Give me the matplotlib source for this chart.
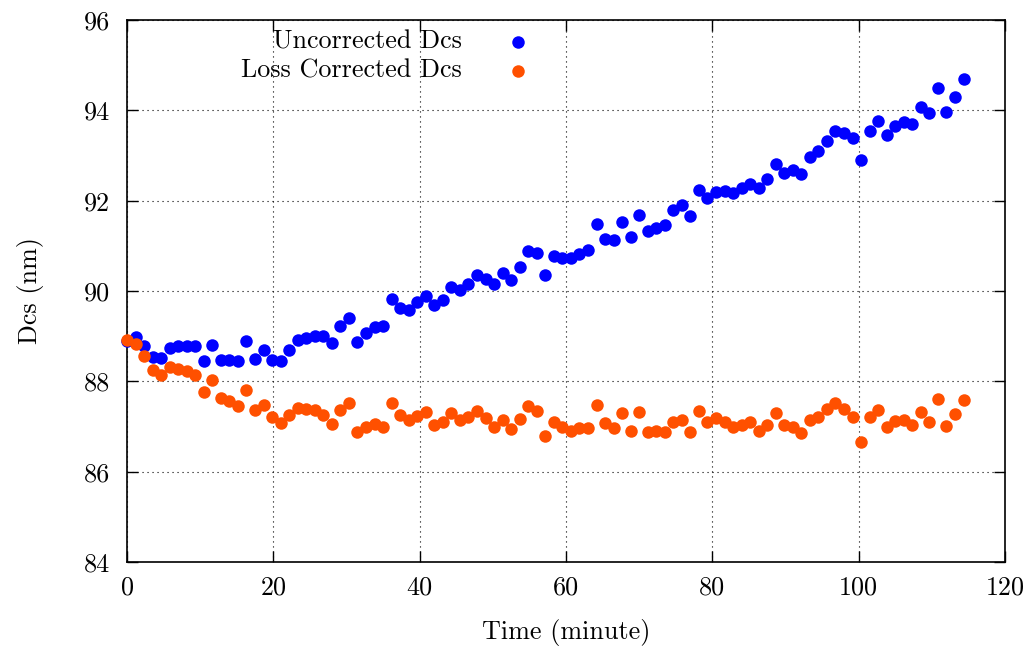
import matplotlib
matplotlib.use("Agg")
import matplotlib.pyplot as plt

plt.rcParams['font.family'] = 'cmr10'
plt.rcParams['mathtext.fontset'] = 'cm'
plt.rcParams['axes.formatter.use_mathtext'] = True

time_min = [0.00, 1.17, 2.33, 3.50, 4.67, 5.83, 7.00, 8.17, 9.33, 10.50,
            11.67, 12.83, 14.00, 15.17, 16.33, 17.50, 18.67, 19.83, 21.00, 22.17,
            23.33, 24.50, 25.67, 26.83, 28.00, 29.17, 30.33, 31.50, 32.67, 33.83,
            35.00, 36.17, 37.33, 38.50, 39.67, 40.83, 42.00, 43.17, 44.33, 45.50,
            46.67, 47.83, 49.00, 50.17, 51.33, 52.50, 53.67, 54.83, 56.00, 57.17,
            58.33, 59.50, 60.67, 61.83, 63.00, 64.17, 65.33, 66.50, 67.67, 68.83,
            70.00, 71.17, 72.33, 73.50, 74.67, 75.83, 77.00, 78.17, 79.33, 80.50,
            81.67, 82.83, 84.00, 85.17, 86.33, 87.50, 88.67, 89.83, 91.00, 92.17,
            93.33, 94.50, 95.67, 96.83, 98.00, 99.17, 100.33, 101.50, 102.67, 103.83,
            105.00, 106.17, 107.33, 108.50, 109.67, 110.83, 112.00, 113.17, 114.33]

uncorrected_dcs = [88.90, 88.99, 88.78, 88.54, 88.52, 88.74, 88.78, 88.79, 88.79, 88.44,
                   88.81, 88.47, 88.48, 88.44, 88.89, 88.50, 88.69, 88.48, 88.44, 88.69,
                   88.91, 88.96, 89.01, 89.00, 88.85, 89.22, 89.40, 88.86, 89.07, 89.20,
                   89.23, 89.82, 89.63, 89.59, 89.75, 89.88, 89.68, 89.81, 90.09, 90.02,
                   90.16, 90.36, 90.27, 90.16, 90.39, 90.25, 90.53, 90.88, 90.84, 90.36,
                   90.78, 90.73, 90.72, 90.83, 90.90, 91.48, 91.15, 91.12, 91.52, 91.20,
                   91.69, 91.32, 91.40, 91.47, 91.79, 91.91, 91.67, 92.23, 92.06, 92.19,
                   92.21, 92.17, 92.28, 92.38, 92.28, 92.47, 92.82, 92.62, 92.67, 92.59,
                   92.96, 93.09, 93.33, 93.54, 93.49, 93.38, 92.90, 93.54, 93.76, 93.46,
                   93.65, 93.74, 93.70, 94.08, 93.93, 94.49, 93.97, 94.30, 94.70]

corrected_dcs = [88.91, 88.83, 88.55, 88.24, 88.15, 88.32, 88.27, 88.22, 88.15, 87.76,
                 88.02, 87.62, 87.56, 87.45, 87.80, 87.36, 87.48, 87.21, 87.08, 87.26,
                 87.41, 87.39, 87.37, 87.26, 87.06, 87.36, 87.51, 86.88, 86.99, 87.06,
                 87.00, 87.52, 87.26, 87.14, 87.24, 87.31, 87.04, 87.09, 87.30, 87.15,
                 87.22, 87.34, 87.19, 87.00, 87.15, 86.95, 87.17, 87.46, 87.34, 86.78,
                 87.11, 87.00, 86.91, 86.97, 86.97, 87.48, 87.07, 86.97, 87.30, 86.89,
                 87.32, 86.88, 86.89, 86.88, 87.11, 87.15, 86.87, 87.35, 87.11, 87.19,
                 87.11, 87.00, 87.04, 87.09, 86.91, 87.04, 87.30, 87.04, 87.00, 86.86,
                 87.15, 87.22, 87.38, 87.51, 87.39, 87.21, 86.66, 87.22, 87.37, 87.00,
                 87.13, 87.15, 87.03, 87.32, 87.11, 87.61, 87.02, 87.28, 87.59]

series_labels = ["Uncorrected Dcs", "Loss Corrected Dcs"]
x_ticks = [0, 20, 40, 60, 80, 100, 120]
y_ticks = [84, 86, 88, 90, 92, 94, 96]

BLUE = '#0000ff'
ORANGE = '#ff5000'
FS = 18.8

fig = plt.figure(figsize=(10.32, 6.5), dpi=100)
ax = fig.add_axes([127/1032, 1 - 562/650, (1005 - 127)/1032, (562 - 20)/650])

ax.plot(time_min, uncorrected_dcs, 'o', color=BLUE, markersize=9, markeredgewidth=0,
        clip_on=False, zorder=3)
ax.plot(time_min, corrected_dcs, 'o', color=ORANGE, markersize=9, markeredgewidth=0,
        clip_on=False, zorder=4)

ax.set_xlim(0, 120)
ax.set_ylim(84, 96)
ax.set_xticks(x_ticks)
ax.set_yticks(y_ticks)
ax.set_xticklabels([str(v) for v in x_ticks])
ax.set_yticklabels([str(v) for v in y_ticks])
ax.tick_params(direction='in', length=8, width=1, top=True, right=True,
               labelsize=FS, colors='black')
ax.tick_params(axis='y', pad=12)
ax.tick_params(axis='x', pad=10)
ax.grid(True, color='black', linestyle=(0, (1, 3.5)), linewidth=0.8)
ax.set_axisbelow(True)
for s in ax.spines.values():
    s.set_linewidth(1.2)
    s.set_color('black')

fig.text(566/1032, 1 - 633/650, "Time (minute)", ha='center', va='center', fontsize=FS)
fig.text(30/1032, 1 - 291/650, "Dcs (nm)", ha='center', va='center', rotation=90, fontsize=FS)

# key (gnuplot-style: right-aligned text, marker to the right)
key_y = [1 - 22/542, 1 - 51/542]
for lab, col, yy in zip(series_labels, [BLUE, ORANGE], key_y):
    ax.text(0.3815, yy, lab, transform=ax.transAxes, ha='right', va='center',
            fontsize=FS, zorder=6)
    ax.plot([0.4453], [yy], 'o', color=col, markersize=9, markeredgewidth=0,
            transform=ax.transAxes, clip_on=False, zorder=6)

fig.savefig("out.png", dpi=100)
